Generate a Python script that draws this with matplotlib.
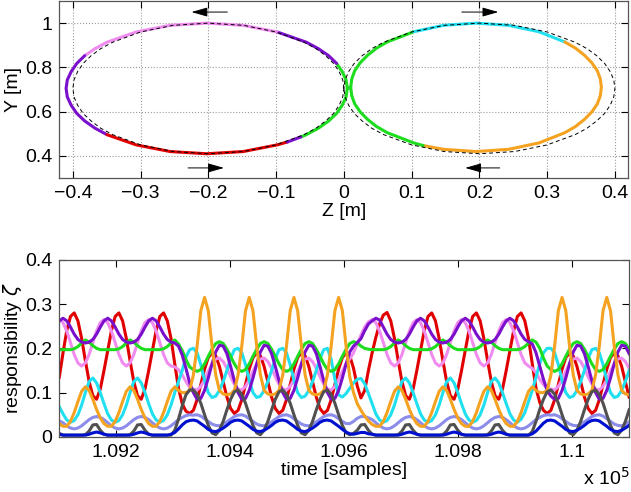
import matplotlib.pyplot as plt
import numpy as np

plt.rcParams['font.family'] = ['Liberation Sans', 'DejaVu Sans']
plt.rcParams['font.size'] = 14

# ---------------- top panel: path in the Z-Y plane [m] ----------------
# solid reproduced path, one list of points per colour segment
seg_colors = ["#1EDC1E", "#20E0F0", "#F4A21F", "#1EDC1E", "#7A0FCC",
              "#F08CF0", "#7A0FCC", "#E00000", "#7A0FCC"]
seg_z = [
    [-0.0635, -0.0555, -0.0379, -0.0225, -0.0108, -0.0025, 0.0032, 0.005,
     0.010, 0.0116, 0.016, 0.0241, 0.035, 0.0482, 0.064, 0.103],
    [0.103, 0.147, 0.195, 0.243, 0.288, 0.326],
    [0.326, 0.3418, 0.355, 0.3659, 0.374, 0.3784, 0.380, 0.3784, 0.374, 0.3659,
     0.355, 0.3418, 0.326, 0.288, 0.243, 0.195, 0.147, 0.117],
    [0.117, 0.103, 0.064, 0.0482, 0.035, 0.0241, 0.016, 0.0116, 0.010,
     0.005, 0.0032, -0.0025, -0.0108],
    [-0.0108, -0.0225, -0.0379, -0.0555, -0.0985],
    [-0.0985, -0.1485, -0.2025, -0.2565, -0.3065, -0.3495, -0.3671, -0.3825],
    [-0.3825, -0.3942, -0.4025, -0.4082, -0.410, -0.4082, -0.4025, -0.3942,
     -0.3825, -0.3671, -0.3495],
    [-0.3495, -0.3065, -0.2565, -0.2025, -0.1485, -0.0985, -0.0835],
    [-0.0835, -0.0635],
]
seg_y = [
    [0.486, 0.496, 0.525, 0.558, 0.592, 0.629, 0.6665, 0.705,
     0.710, 0.748, 0.785, 0.821, 0.855, 0.887, 0.915, 0.961],
    [0.961, 0.990, 1.000, 0.990, 0.961, 0.915],
    [0.915, 0.887, 0.855, 0.821, 0.785, 0.748, 0.710, 0.672, 0.635, 0.599,
     0.565, 0.533, 0.505, 0.459, 0.430, 0.420, 0.430, 0.447],
    [0.447, 0.459, 0.505, 0.533, 0.565, 0.599, 0.635, 0.672, 0.710,
     0.705, 0.7435, 0.781, 0.818],
    [0.818, 0.853, 0.885, 0.914, 0.960],
    [0.960, 0.990, 1.000, 0.990, 0.960, 0.914, 0.885, 0.853],
    [0.853, 0.818, 0.781, 0.7435, 0.705, 0.6665, 0.629, 0.592,
     0.558, 0.525, 0.496],
    [0.496, 0.450, 0.420, 0.410, 0.420, 0.450, 0.463],
    [0.463, 0.486],
]

# dashed reference figure-eight (left loop, then right loop)
ref_z = [0.0, -0.0017, -0.007, -0.0152, -0.027, -0.0413, -0.059, -0.1, -0.148,
         -0.2, -0.252, -0.3, -0.341, -0.3587, -0.373, -0.3848, -0.393, -0.3983,
         -0.4, -0.3983, -0.393, -0.3848, -0.373, -0.3587, -0.341, -0.3, -0.252,
         -0.2, -0.148, -0.1, -0.059, -0.0413, -0.027, -0.0152, -0.007, -0.0017,
         0.0,
         0.0017, 0.007, 0.0152, 0.027, 0.0413, 0.059, 0.1, 0.148,
         0.2, 0.252, 0.3, 0.341, 0.3587, 0.373, 0.3848, 0.393, 0.3983,
         0.4, 0.3983, 0.393, 0.3848, 0.373, 0.3587, 0.341, 0.3, 0.252,
         0.2, 0.148, 0.1, 0.059, 0.0413, 0.027, 0.0152, 0.007, 0.0017, 0.0]
ref_y = [0.705, 0.7435, 0.781, 0.818, 0.853, 0.885, 0.914, 0.96, 0.99,
         1.0, 0.99, 0.96, 0.914, 0.885, 0.853, 0.818, 0.781, 0.7435,
         0.705, 0.6665, 0.629, 0.592, 0.558, 0.525, 0.496, 0.45, 0.42,
         0.41, 0.42, 0.45, 0.496, 0.525, 0.558, 0.592, 0.629, 0.6665,
         0.705,
         0.7435, 0.781, 0.818, 0.853, 0.885, 0.914, 0.96, 0.99,
         1.0, 0.99, 0.96, 0.914, 0.885, 0.853, 0.818, 0.781, 0.7435,
         0.705, 0.6665, 0.629, 0.592, 0.558, 0.525, 0.496, 0.45, 0.42,
         0.41, 0.42, 0.45, 0.496, 0.525, 0.558, 0.592, 0.629, 0.6665, 0.705]

# direction arrows (tail -> head)
arrow_tail = [(-0.172, 1.05), (-0.230, 0.346), (0.174, 1.05), (0.230, 0.346)]
arrow_head = [(-0.225, 1.05), (-0.177, 0.346), (0.228, 1.05), (0.179, 0.346)]

# ---------------- bottom panel: responsibilities ----------------
t_start, t_end, n_samples = 109100, 110100, 154

resp_red = [
    0.135, 0.190, 0.240, 0.272, 0.280, 0.262, 0.222, 0.172, 0.125, 0.093, 0.085, 0.108,
    0.150, 0.195, 0.240, 0.272, 0.280, 0.262, 0.222, 0.172, 0.125, 0.093, 0.085, 0.108,
    0.150, 0.195, 0.240, 0.272, 0.280, 0.262, 0.222, 0.165, 0.110, 0.075, 0.058, 0.053,
    0.060, 0.084, 0.118, 0.153, 0.179, 0.190, 0.183, 0.159, 0.125, 0.090, 0.064, 0.053,
    0.060, 0.084, 0.118, 0.153, 0.179, 0.190, 0.183, 0.159, 0.125, 0.090, 0.064, 0.053,
    0.060, 0.084, 0.118, 0.153, 0.179, 0.190, 0.183, 0.159, 0.125, 0.090, 0.064, 0.053,
    0.060, 0.084, 0.118, 0.153, 0.179, 0.190, 0.183, 0.155, 0.115, 0.088, 0.105, 0.150,
    0.190, 0.225, 0.255, 0.275, 0.281, 0.262, 0.222, 0.172, 0.125, 0.093, 0.085, 0.108,
    0.150, 0.195, 0.240, 0.272, 0.280, 0.262, 0.222, 0.172, 0.125, 0.093, 0.085, 0.108,
    0.150, 0.195, 0.240, 0.272, 0.280, 0.262, 0.222, 0.172, 0.125, 0.093, 0.085, 0.108,
    0.150, 0.195, 0.240, 0.272, 0.280, 0.262, 0.222, 0.165, 0.110, 0.078, 0.060, 0.053,
    0.060, 0.084, 0.118, 0.153, 0.179, 0.190, 0.183, 0.159, 0.125, 0.090, 0.064, 0.053,
    0.060, 0.084, 0.118, 0.153, 0.179, 0.190, 0.183, 0.159, 0.125, 0.090]

resp_orange = [
    0.030, 0.024, 0.024, 0.035, 0.055, 0.080, 0.103, 0.113, 0.105, 0.085, 0.062, 0.043,
    0.030, 0.024, 0.024, 0.035, 0.055, 0.080, 0.103, 0.113, 0.105, 0.085, 0.062, 0.043,
    0.030, 0.024, 0.024, 0.035, 0.055, 0.080, 0.103, 0.113, 0.105, 0.100, 0.100, 0.105,
    0.140, 0.205, 0.285, 0.315, 0.285, 0.205, 0.140, 0.105, 0.097, 0.095, 0.097, 0.105,
    0.140, 0.205, 0.285, 0.315, 0.285, 0.205, 0.140, 0.105, 0.097, 0.095, 0.097, 0.105,
    0.140, 0.205, 0.285, 0.315, 0.285, 0.205, 0.140, 0.105, 0.097, 0.095, 0.097, 0.105,
    0.140, 0.205, 0.285, 0.315, 0.285, 0.205, 0.135, 0.100, 0.075, 0.060, 0.047, 0.036,
    0.028, 0.024, 0.024, 0.035, 0.055, 0.080, 0.103, 0.113, 0.105, 0.085, 0.062, 0.043,
    0.030, 0.024, 0.024, 0.035, 0.055, 0.080, 0.103, 0.113, 0.105, 0.085, 0.062, 0.043,
    0.030, 0.024, 0.024, 0.035, 0.055, 0.080, 0.103, 0.113, 0.105, 0.085, 0.062, 0.043,
    0.030, 0.024, 0.024, 0.035, 0.055, 0.080, 0.103, 0.113, 0.105, 0.100, 0.100, 0.105,
    0.140, 0.205, 0.285, 0.315, 0.285, 0.205, 0.140, 0.105, 0.097, 0.095, 0.097, 0.105,
    0.140, 0.205, 0.285, 0.315, 0.285, 0.205, 0.140, 0.105, 0.097, 0.095]

resp_purple = [
    0.262, 0.268, 0.262, 0.248, 0.232, 0.220, 0.214, 0.212, 0.214, 0.220, 0.232, 0.248,
    0.262, 0.268, 0.262, 0.248, 0.232, 0.220, 0.214, 0.212, 0.214, 0.220, 0.232, 0.248,
    0.262, 0.268, 0.262, 0.248, 0.232, 0.220, 0.214, 0.212, 0.205, 0.185, 0.155, 0.122,
    0.100, 0.085, 0.087, 0.105, 0.133, 0.165, 0.192, 0.207, 0.205, 0.188, 0.159, 0.127,
    0.100, 0.085, 0.087, 0.105, 0.133, 0.165, 0.192, 0.207, 0.205, 0.188, 0.159, 0.127,
    0.100, 0.085, 0.087, 0.105, 0.133, 0.165, 0.192, 0.207, 0.205, 0.188, 0.159, 0.127,
    0.100, 0.085, 0.087, 0.105, 0.133, 0.165, 0.192, 0.205, 0.213, 0.222, 0.240, 0.255,
    0.262, 0.268, 0.264, 0.248, 0.232, 0.220, 0.214, 0.212, 0.214, 0.220, 0.232, 0.248,
    0.262, 0.268, 0.262, 0.248, 0.232, 0.220, 0.214, 0.212, 0.214, 0.220, 0.232, 0.248,
    0.262, 0.268, 0.262, 0.248, 0.232, 0.220, 0.214, 0.212, 0.214, 0.220, 0.232, 0.248,
    0.262, 0.268, 0.262, 0.248, 0.232, 0.220, 0.215, 0.210, 0.190, 0.160, 0.130, 0.105,
    0.092, 0.085, 0.087, 0.105, 0.133, 0.165, 0.192, 0.207, 0.205, 0.188, 0.159, 0.127,
    0.100, 0.085, 0.087, 0.105, 0.133, 0.165, 0.192, 0.207, 0.205, 0.188]

resp_pink = [
    0.265, 0.258, 0.239, 0.213, 0.186, 0.167, 0.160, 0.167, 0.186, 0.213, 0.239, 0.258,
    0.265, 0.258, 0.239, 0.213, 0.186, 0.167, 0.160, 0.167, 0.186, 0.213, 0.239, 0.258,
    0.265, 0.258, 0.239, 0.213, 0.186, 0.167, 0.160, 0.158, 0.152, 0.140, 0.125, 0.112,
    0.108, 0.106, 0.114, 0.129, 0.148, 0.165, 0.176, 0.178, 0.170, 0.155, 0.136, 0.119,
    0.108, 0.106, 0.114, 0.129, 0.148, 0.165, 0.176, 0.178, 0.170, 0.155, 0.136, 0.119,
    0.108, 0.106, 0.114, 0.129, 0.148, 0.165, 0.176, 0.178, 0.170, 0.155, 0.136, 0.119,
    0.108, 0.106, 0.114, 0.129, 0.148, 0.165, 0.176, 0.190, 0.210, 0.230, 0.248, 0.260,
    0.265, 0.258, 0.239, 0.213, 0.186, 0.167, 0.160, 0.167, 0.186, 0.213, 0.239, 0.258,
    0.265, 0.258, 0.239, 0.213, 0.186, 0.167, 0.160, 0.167, 0.186, 0.213, 0.239, 0.258,
    0.265, 0.258, 0.239, 0.213, 0.186, 0.167, 0.160, 0.167, 0.186, 0.213, 0.239, 0.258,
    0.265, 0.258, 0.239, 0.213, 0.186, 0.167, 0.160, 0.155, 0.145, 0.130, 0.118, 0.110,
    0.108, 0.106, 0.114, 0.129, 0.148, 0.165, 0.176, 0.178, 0.170, 0.155, 0.136, 0.119,
    0.108, 0.106, 0.114, 0.129, 0.148, 0.165, 0.176, 0.178, 0.170, 0.155]

resp_green = [
    0.197, 0.197, 0.197, 0.197, 0.199, 0.204, 0.212, 0.219, 0.214, 0.206, 0.200, 0.197,
    0.197, 0.197, 0.197, 0.197, 0.199, 0.204, 0.212, 0.219, 0.214, 0.206, 0.200, 0.197,
    0.197, 0.197, 0.197, 0.197, 0.199, 0.204, 0.212, 0.219, 0.210, 0.195, 0.175, 0.158,
    0.152, 0.148, 0.152, 0.165, 0.182, 0.198, 0.211, 0.215, 0.211, 0.198, 0.182, 0.165,
    0.152, 0.148, 0.152, 0.165, 0.182, 0.198, 0.211, 0.215, 0.211, 0.198, 0.182, 0.165,
    0.152, 0.148, 0.152, 0.165, 0.182, 0.198, 0.211, 0.215, 0.211, 0.198, 0.182, 0.165,
    0.152, 0.148, 0.152, 0.165, 0.182, 0.198, 0.211, 0.215, 0.212, 0.205, 0.200, 0.198,
    0.197, 0.197, 0.197, 0.197, 0.199, 0.204, 0.212, 0.219, 0.214, 0.206, 0.200, 0.197,
    0.197, 0.197, 0.197, 0.197, 0.199, 0.204, 0.212, 0.219, 0.214, 0.206, 0.200, 0.197,
    0.197, 0.197, 0.197, 0.197, 0.199, 0.204, 0.212, 0.219, 0.214, 0.206, 0.200, 0.197,
    0.197, 0.197, 0.197, 0.197, 0.199, 0.204, 0.212, 0.219, 0.214, 0.200, 0.178, 0.160,
    0.152, 0.148, 0.152, 0.165, 0.182, 0.198, 0.211, 0.215, 0.211, 0.198, 0.182, 0.165,
    0.152, 0.148, 0.152, 0.165, 0.182, 0.198, 0.211, 0.215, 0.211, 0.198]

resp_cyan = [
    0.068, 0.052, 0.038, 0.033, 0.037, 0.050, 0.072, 0.100, 0.125, 0.133, 0.122, 0.100,
    0.075, 0.052, 0.038, 0.033, 0.037, 0.050, 0.072, 0.100, 0.125, 0.133, 0.122, 0.100,
    0.075, 0.052, 0.038, 0.033, 0.037, 0.050, 0.072, 0.100, 0.125, 0.150, 0.180, 0.197,
    0.200, 0.190, 0.163, 0.128, 0.100, 0.089, 0.092, 0.105, 0.125, 0.150, 0.177, 0.197,
    0.200, 0.190, 0.163, 0.128, 0.100, 0.089, 0.092, 0.105, 0.125, 0.150, 0.177, 0.197,
    0.200, 0.190, 0.163, 0.128, 0.100, 0.089, 0.092, 0.105, 0.125, 0.150, 0.177, 0.197,
    0.200, 0.175, 0.130, 0.095, 0.090, 0.098, 0.110, 0.122, 0.130, 0.132, 0.120, 0.098,
    0.075, 0.052, 0.038, 0.033, 0.037, 0.050, 0.072, 0.100, 0.125, 0.133, 0.122, 0.100,
    0.075, 0.052, 0.038, 0.033, 0.037, 0.050, 0.072, 0.100, 0.125, 0.133, 0.122, 0.100,
    0.075, 0.052, 0.038, 0.033, 0.037, 0.050, 0.072, 0.100, 0.125, 0.133, 0.122, 0.100,
    0.075, 0.052, 0.038, 0.033, 0.040, 0.055, 0.080, 0.105, 0.135, 0.165, 0.190, 0.200,
    0.200, 0.190, 0.163, 0.128, 0.100, 0.089, 0.092, 0.105, 0.125, 0.150, 0.177, 0.197,
    0.200, 0.190, 0.163, 0.128, 0.100, 0.089, 0.092, 0.105, 0.125, 0.150]

resp_gray = [
    0.008, 0.004, 0.004, 0.004, 0.004, 0.004, 0.004, 0.005, 0.013, 0.027, 0.028, 0.015,
    0.006, 0.004, 0.004, 0.004, 0.004, 0.004, 0.004, 0.005, 0.013, 0.027, 0.028, 0.015,
    0.006, 0.004, 0.004, 0.004, 0.004, 0.004, 0.004, 0.015, 0.040, 0.070, 0.095, 0.106,
    0.106, 0.096, 0.076, 0.050, 0.026, 0.009, 0.005, 0.015, 0.035, 0.061, 0.085, 0.102,
    0.106, 0.096, 0.076, 0.050, 0.026, 0.009, 0.005, 0.015, 0.035, 0.061, 0.085, 0.102,
    0.106, 0.096, 0.076, 0.050, 0.026, 0.009, 0.005, 0.015, 0.035, 0.061, 0.085, 0.102,
    0.106, 0.096, 0.076, 0.050, 0.026, 0.009, 0.005, 0.008, 0.015, 0.027, 0.028, 0.015,
    0.006, 0.004, 0.004, 0.004, 0.004, 0.004, 0.004, 0.005, 0.013, 0.027, 0.028, 0.015,
    0.006, 0.004, 0.004, 0.004, 0.004, 0.004, 0.004, 0.005, 0.013, 0.027, 0.028, 0.015,
    0.006, 0.004, 0.004, 0.004, 0.004, 0.004, 0.004, 0.005, 0.013, 0.027, 0.028, 0.015,
    0.006, 0.004, 0.004, 0.004, 0.004, 0.004, 0.004, 0.012, 0.035, 0.062, 0.085, 0.102,
    0.106, 0.096, 0.076, 0.050, 0.026, 0.009, 0.005, 0.015, 0.035, 0.061, 0.085, 0.102,
    0.106, 0.096, 0.076, 0.050, 0.026, 0.009, 0.005, 0.015, 0.035, 0.061]

resp_slate = [
    0.036, 0.032, 0.025, 0.020, 0.018, 0.020, 0.025, 0.032, 0.039, 0.044, 0.046, 0.044,
    0.039, 0.032, 0.025, 0.020, 0.018, 0.020, 0.025, 0.032, 0.039, 0.044, 0.046, 0.044,
    0.039, 0.032, 0.025, 0.020, 0.018, 0.020, 0.025, 0.032, 0.039, 0.044, 0.048, 0.050,
    0.049, 0.050, 0.047, 0.041, 0.035, 0.029, 0.026, 0.025, 0.028, 0.034, 0.040, 0.046,
    0.049, 0.050, 0.047, 0.041, 0.035, 0.029, 0.026, 0.025, 0.028, 0.034, 0.040, 0.046,
    0.049, 0.050, 0.047, 0.041, 0.035, 0.029, 0.026, 0.025, 0.028, 0.034, 0.040, 0.046,
    0.049, 0.050, 0.047, 0.041, 0.035, 0.030, 0.030, 0.035, 0.042, 0.046, 0.046, 0.043,
    0.039, 0.032, 0.025, 0.020, 0.018, 0.020, 0.025, 0.032, 0.039, 0.044, 0.046, 0.044,
    0.039, 0.032, 0.025, 0.020, 0.018, 0.020, 0.025, 0.032, 0.039, 0.044, 0.046, 0.044,
    0.039, 0.032, 0.025, 0.020, 0.018, 0.020, 0.025, 0.032, 0.039, 0.044, 0.046, 0.044,
    0.039, 0.032, 0.025, 0.020, 0.018, 0.020, 0.025, 0.032, 0.039, 0.044, 0.048, 0.050,
    0.049, 0.050, 0.047, 0.041, 0.035, 0.029, 0.026, 0.025, 0.028, 0.034, 0.040, 0.046,
    0.049, 0.050, 0.047, 0.041, 0.035, 0.029, 0.026, 0.025, 0.028, 0.034]

resp_blue = [
    0.006, 0.004, 0.004, 0.004, 0.004, 0.004, 0.004, 0.004, 0.006, 0.009, 0.011, 0.009,
    0.006, 0.004, 0.004, 0.004, 0.004, 0.004, 0.004, 0.004, 0.006, 0.009, 0.011, 0.009,
    0.006, 0.004, 0.004, 0.004, 0.004, 0.004, 0.006, 0.010, 0.018, 0.027, 0.034, 0.037,
    0.038, 0.036, 0.030, 0.024, 0.017, 0.013, 0.012, 0.015, 0.020, 0.026, 0.033, 0.037,
    0.038, 0.036, 0.030, 0.024, 0.017, 0.013, 0.012, 0.015, 0.020, 0.026, 0.033, 0.037,
    0.038, 0.036, 0.030, 0.024, 0.017, 0.013, 0.012, 0.015, 0.020, 0.026, 0.033, 0.037,
    0.038, 0.036, 0.030, 0.024, 0.017, 0.011, 0.007, 0.006, 0.008, 0.010, 0.010, 0.007,
    0.006, 0.004, 0.004, 0.004, 0.004, 0.004, 0.004, 0.004, 0.006, 0.009, 0.011, 0.009,
    0.006, 0.004, 0.004, 0.004, 0.004, 0.004, 0.004, 0.004, 0.006, 0.009, 0.011, 0.009,
    0.006, 0.004, 0.004, 0.004, 0.004, 0.004, 0.004, 0.004, 0.006, 0.009, 0.011, 0.009,
    0.006, 0.004, 0.004, 0.004, 0.004, 0.004, 0.004, 0.007, 0.013, 0.022, 0.031, 0.037,
    0.038, 0.036, 0.030, 0.024, 0.017, 0.013, 0.012, 0.015, 0.020, 0.026, 0.033, 0.037,
    0.038, 0.036, 0.030, 0.024, 0.017, 0.013, 0.012, 0.015, 0.020, 0.026]

# drawing order: first listed ends up underneath
series = [
    (resp_red, "#E00000"),
    (resp_pink, "#F08CF0"),
    (resp_cyan, "#20E0F0"),
    (resp_slate, "#8C8CEB"),
    (resp_green, "#1EDC1E"),
    (resp_purple, "#7A0FCC"),
    (resp_orange, "#F4A21F"),
    (resp_gray, "#505050"),
    (resp_blue, "#0010D0"),
]

time_ticks = [109200, 109400, 109600, 109800, 110000]
time_labels = ["1.092", "1.094", "1.096", "1.098", "1.1"]

# ---------------- figure ----------------
fig = plt.figure(figsize=(6.31, 4.92), dpi=100)
ax1 = fig.add_axes([0.094, 0.638, 0.902, 0.360])
ax2 = fig.add_axes([0.094, 0.112, 0.903, 0.360])

for z, y, c in zip(seg_z, seg_y, seg_colors):
    ax1.plot(z, y, color=c, lw=2.2, solid_capstyle='round', solid_joinstyle='round')
ax1.plot(ref_z, ref_y, color='k', lw=0.7, dashes=(4, 3))
for tail, head in zip(arrow_tail, arrow_head):
    ax1.annotate("", xy=head, xytext=tail,
                 arrowprops=dict(arrowstyle='-|>,head_length=0.7,head_width=0.2',
                                 color='k', lw=0.7, shrinkA=0, shrinkB=0))

ax1.set_xlim(-0.42, 0.42)
ax1.set_ylim(0.3, 1.1)
ax1.set_xticks([-0.4, -0.3, -0.2, -0.1, 0, 0.1, 0.2, 0.3, 0.4])
ax1.set_xticklabels(["\u22120.4", "\u22120.3", "\u22120.2", "\u22120.1", "0",
                     "0.1", "0.2", "0.3", "0.4"])
ax1.set_yticks([0.4, 0.6, 0.8, 1.0])
ax1.set_yticklabels(["0.4", "0.6", "0.8", "1"])
ax1.grid(True, linestyle=':', color='#999999', lw=0.8)
ax1.set_xlabel("Z [m]", labelpad=1)
ax1.set_ylabel("Y [m]", labelpad=2)

t = np.linspace(t_start, t_end, n_samples)
for vals, c in series:
    ax2.plot(t, vals, color=c, lw=2.2, solid_joinstyle='round')
ax2.set_xlim(t_start, t_end)
ax2.set_ylim(0, 0.4)
ax2.set_yticks([0, 0.1, 0.2, 0.3, 0.4])
ax2.set_yticklabels(["0", "0.1", "0.2", "0.3", "0.4"])
ax2.set_xticks(time_ticks)
ax2.set_xticklabels(time_labels)
ax2.set_xlabel("time [samples]", labelpad=1)
ax2.set_ylabel(r"responsibility $\zeta$", labelpad=0.5)
fig.text(0.998, 0.006, r"x 10$^5$", ha='right', va='bottom', fontsize=14)

for ax in (ax1, ax2):
    ax.tick_params(direction='in', top=True, right=True, length=5,
                   width=0.8, pad=5, colors='k')
    for s in ax.spines.values():
        s.set_color('#555555')
        s.set_linewidth(0.9)

fig.savefig("out.png", dpi=100)
